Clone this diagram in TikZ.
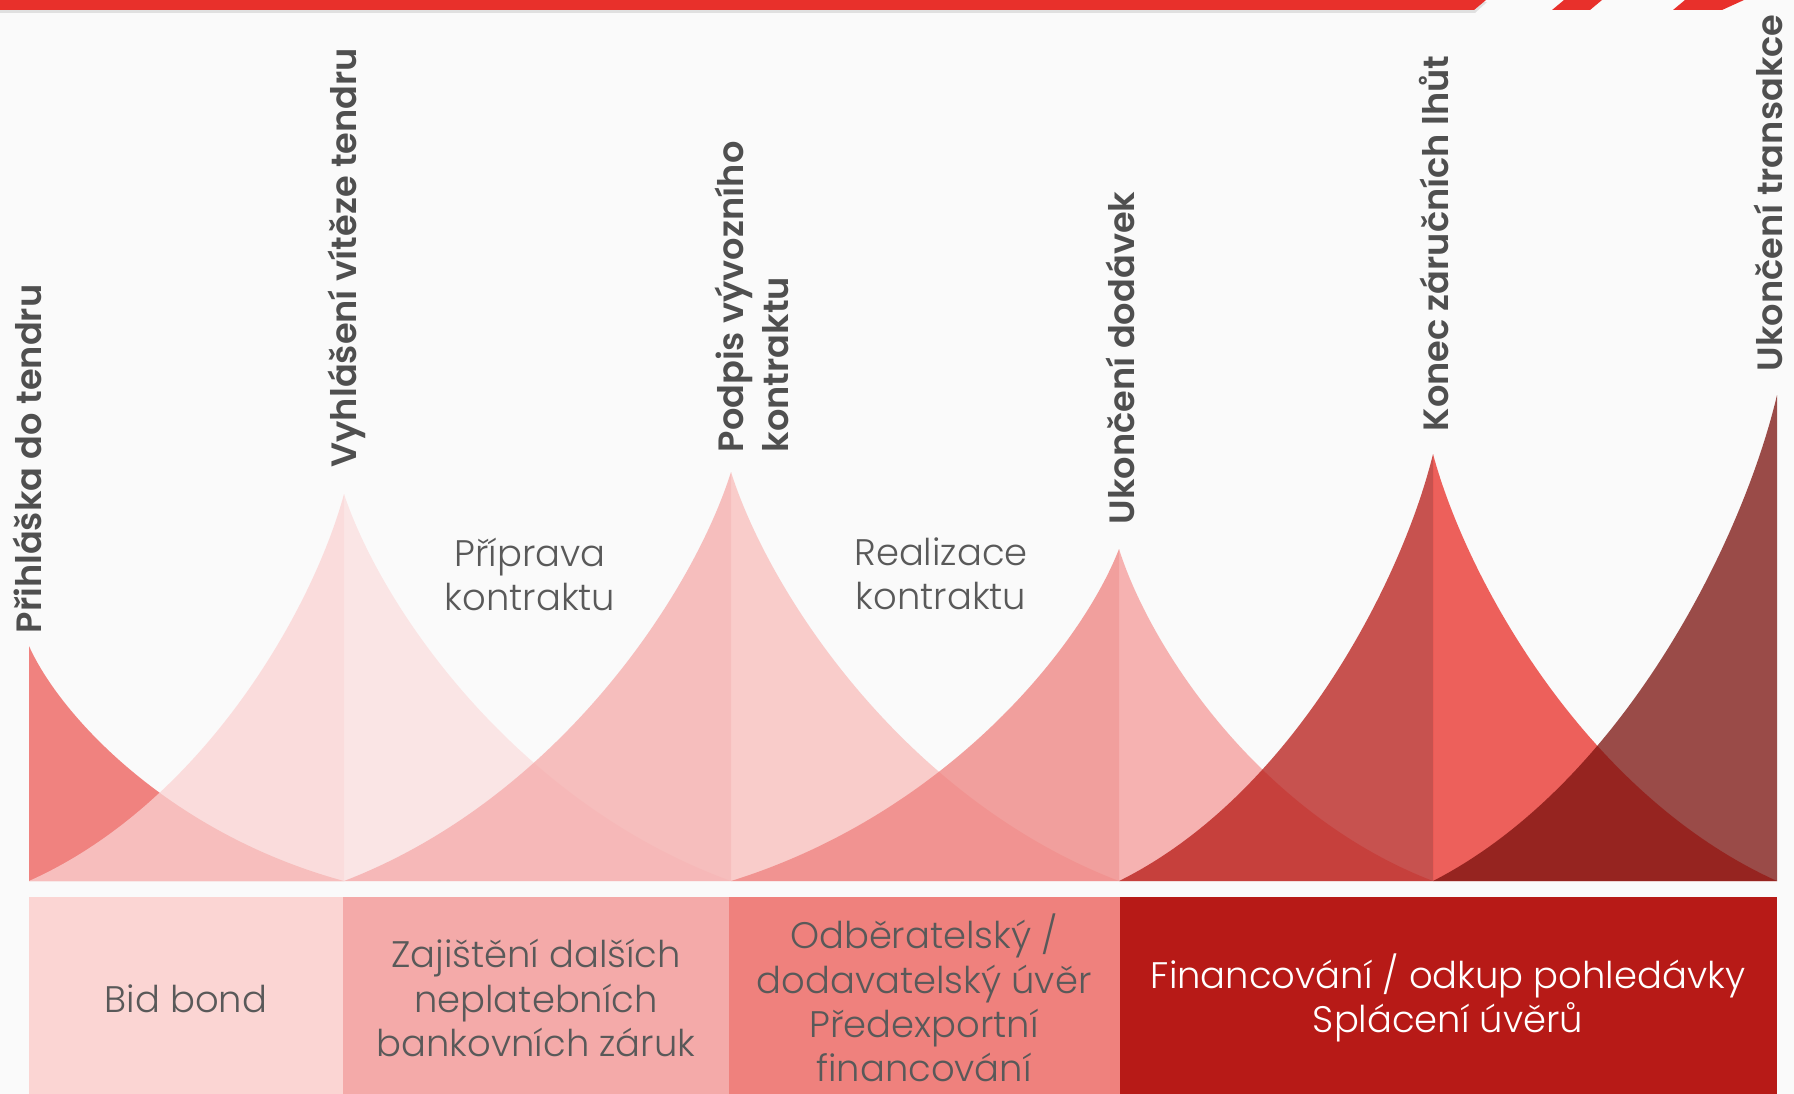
\documentclass[tikz,border=0pt]{standalone}
\usepackage{fontspec}
\setmainfont{Poppins}[UprightFont=* Light, BoldFont=* SemiBold]
\definecolor{bggray}{HTML}{FAFAFA}
\definecolor{barred}{HTML}{E8302B}
\definecolor{labelgray}{HTML}{4F4F4F}
\definecolor{textgray}{HTML}{595959}
\definecolor{pk0r}{RGB}{237,91,86}
\definecolor{pk1l}{RGB}{250,211,211}
\definecolor{pk1r}{RGB}{251,222,222}
\definecolor{pk2l}{RGB}{245,170,169}
\definecolor{pk2r}{RGB}{249,189,187}
\definecolor{pk3l}{RGB}{239,129,126}
\definecolor{pk3r}{RGB}{245,155,153}
\definecolor{pk4l}{RGB}{183,26,22}
\definecolor{pk4r}{RGB}{233,45,38}
\definecolor{pk5l}{RGB}{122,17,13}
\definecolor{box1}{HTML}{FBD5D3}
\definecolor{box2}{HTML}{F4AAA9}
\definecolor{box3}{HTML}{EF817D}
\definecolor{box4}{HTML}{B71A17}
% one flank of a peak: {peak x}{peak top y}{foot x}{colour}, base line at y=881
\newcommand{\peakside}[4]{%
 \fill[#4,fill opacity=0.75](#1,881)--(#1,#2)
  .. controls ({#1+0.1*(#3-#1)},{881-0.7*(881-#2)}) and ({#1+0.45*(#3-#1)},{881-0.2*(881-#2)}) .. (#3,881)--cycle;}
\begin{document}
\begin{tikzpicture}[x=0.01cm,y=-0.01cm,
 milestone/.style={rotate=90,anchor=west,inner sep=0pt,align=left,text=labelgray,font=\fontsize{10}{13}\selectfont\bfseries},
 phase/.style={inner sep=0pt,align=center,text=textgray,font=\fontsize{10.5}{12.5}\selectfont},
 instrument/.style={inner sep=0pt,align=center,text=textgray,font=\fontsize{10.5}{12.6}\selectfont}]
 \useasboundingbox (0,0) rectangle (1794,1094);
 \fill[bggray](0,0) rectangle (1794,1094);
 % top bar
 \fill[black,opacity=0.1](0,2)--(1487,2)--(1475,13)--(0,13)--cycle;
 \fill[barred](0,0)--(1486,0)--(1474,10)--(0,10)--cycle;
 \fill[barred](1564,0)--(1602,0)--(1590,10)--(1552,10)--cycle;
 \fill[barred](1685,0)--(1744,0)--(1722,10)--(1673,10)--cycle;
 % peaks
 \peakside{29}{646}{344}{pk0r}
 \peakside{344}{494}{29}{pk1l}
 \peakside{344}{494}{731}{pk1r}
 \peakside{731}{472}{344}{pk2l}
 \peakside{731}{472}{1119}{pk2r}
 \peakside{1119}{549}{731}{pk3l}
 \peakside{1119}{549}{1433}{pk3r}
 \peakside{1433}{454}{1119}{pk4l}
 \peakside{1433}{454}{1777}{pk4r}
 \peakside{1777}{395}{1433}{pk5l}
 % boxes
 \fill[box1](29,897) rectangle (343,1094);
 \fill[box2](343,897) rectangle (729,1094);
 \fill[box3](729,897) rectangle (1120,1094);
 \fill[box4](1120,897) rectangle (1777,1094);
 % milestones
 \node[milestone] (tender) at (27,634) {Přihláška do tendru};
 \node[milestone] (winner) at (347,468) {Vyhlášení vítěze tendru};
 \node[milestone] (signing) at (752,453) {Podpis vývozního\\kontraktu};
 \node[milestone] (delivery) at (1120,525) {Ukončení dodávek};
 \node[milestone] (warranty) at (1434,432) {Konec záručních lhůt};
 \node[milestone] (closing) at (1768,372) {Ukončení transakce};
 % phases
 \node[phase] (prep) at (530,574) {Příprava\\kontraktu};
 \node[phase] (real) at (941,574) {Realizace\\kontraktu};
 % instruments
 \node[instrument] (bid) at (186,999) {Bid bond};
 \node[instrument] (guar) at (536,998) {Zajištění dalších\\neplatebních\\bankovních záruk};
 \node[instrument] (credit) at (924,998) {Odběratelský /\\dodavatelský úvěr\\Předexportní\\financování};
 \node[instrument,text=white] (fin) at (1448,998) {Financování / odkup pohledávky\\Splácení úvěrů};
\end{tikzpicture}
\end{document}
